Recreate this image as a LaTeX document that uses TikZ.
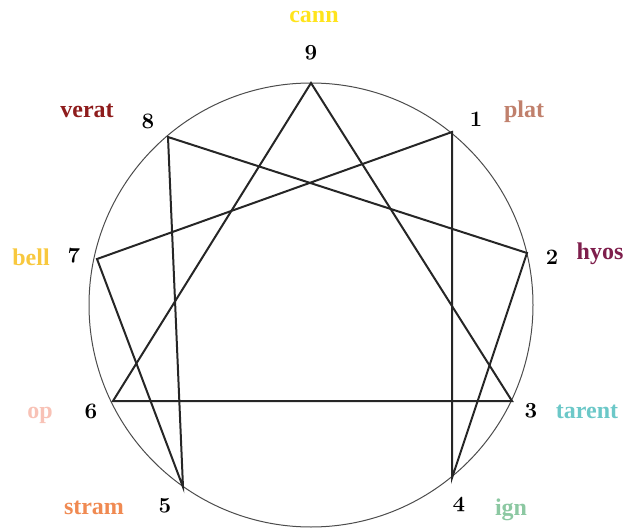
\documentclass[tikz,border=0pt]{standalone}
\usepackage{fontspec}
\usepackage{xcolor}
\usepackage{tikz}
\usetikzlibrary{positioning}
\newfontfamily\labfont{Liberation Serif}
\newcommand\oldnum[1]{{\usefont{OML}{cmm}{b}{it}#1}}
\definecolor{canncol}{HTML}{FFE41C}
\definecolor{platcol}{HTML}{C0806C}
\definecolor{hyoscol}{HTML}{7E1E4C}
\definecolor{tarentcol}{HTML}{6CC8C8}
\definecolor{igncol}{HTML}{8CC8A2}
\definecolor{stramcol}{HTML}{F08A52}
\definecolor{opcol}{HTML}{F8C2B6}
\definecolor{bellcol}{HTML}{F8C83E}
\definecolor{veratcol}{HTML}{8E1C1C}
\begin{document}
\begin{tikzpicture}[x=0.5pt,y=-0.5pt,
  chord/.style={line width=1pt,draw=black!85},
  rim/.style={line width=0.5pt,draw=black!70},
  num/.style={font=\fontsize{11}{13}\selectfont,inner sep=0pt},
  remedy/.style={font=\labfont\bfseries\fontsize{12}{14}\selectfont,anchor=base,inner sep=0pt}]
 \useasboundingbox (0,0) rectangle (626,529);
 % --- circle ---
 \coordinate (o) at (311,305);
 \draw[rim] (o) circle (111pt);
 % --- points ---
 \foreach \n/\px/\py in {9/311/83,1/452/132,2/527/253,3/512/401,4/452/478,5/183/487,6/113/401,7/97/259,8/168/137}
   \coordinate (p\n) at (\px,\py);
 % --- chords ---
 \draw[chord] (p9)--(p3)--(p6)--cycle;
 \draw[chord] (p1)--(p4)--(p2)--(p8)--(p5)--(p7)--cycle;
 % --- numbers ---
 \foreach \n/\px/\py in {9/311/53,3/531/411,4/459/505,5/165/506,6/91/411,7/74/256,8/148/121}
   \node[num] (n\n) at (\px,\py) {\oldnum{\n}};
 \foreach \n/\px/\py in {1/476/119,2/552/257}
   \node[num] (n\n) at (\px,\py) {\bfseries\n};
 % --- remedies ---
 \foreach \n/\txt/\c/\px/\py in {9/cann/canncol/314/23,1/plat/platcol/524/118,2/hyos/hyoscol/600/260,3/tarent/tarentcol/587/418,4/ign/igncol/511/515,5/stram/stramcol/94/514,6/op/opcol/40/418,7/bell/bellcol/31/265,8/verat/veratcol/87/118}
   \node[remedy,text=\c] (r\n) at (\px,\py) {\txt};
\end{tikzpicture}
\end{document}
